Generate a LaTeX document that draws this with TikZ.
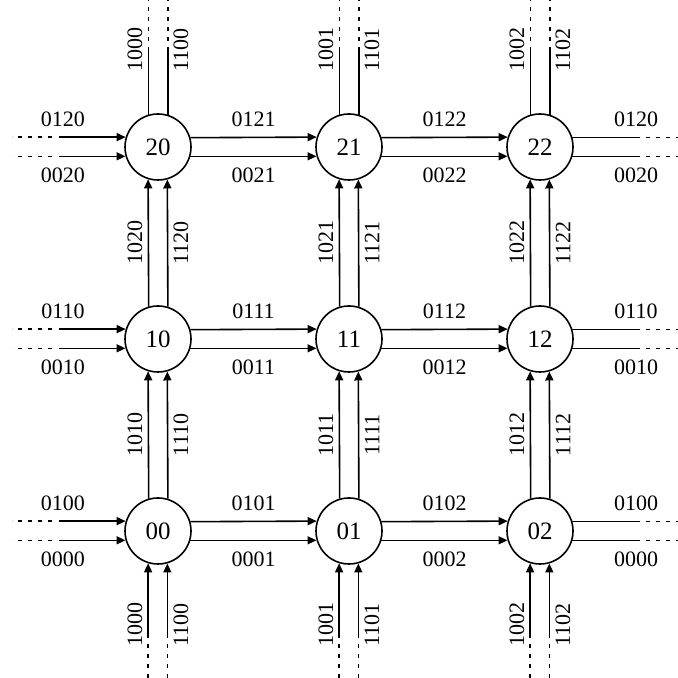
\documentclass[tikz,border=0pt]{standalone}
\usepackage{fontspec}
\setmainfont{Liberation Serif}
\usetikzlibrary{arrows.meta,calc}
\begin{document}
\begin{tikzpicture}[x=1pt,y=1pt,
  router/.style={circle, draw, line width=1.6pt, minimum size=66pt, inner sep=0pt, font=\fontsize{25}{25}\selectfont},
  link/.style={line width=1.6pt, -{Triangle[length=9pt,width=8pt]}},
  plainline/.style={line width=1.6pt},
  dotend/.style={line width=1.6pt, dash pattern=on 4pt off 6pt},
  lab/.style={font=\fontsize{22}{22}\selectfont, inner sep=0pt},
  vlab/.style={lab, rotate=90}]
\useasboundingbox (0,0) rectangle (678,678);
\coordinate (xin) at (59,0);
\coordinate (xinD) at (52,0);
\coordinate (xL) at (12,0);
\coordinate (xout) at (640,0);
\coordinate (xoutD) at (646,0);
\coordinate (xR) at (678,0);
\coordinate (ybot) at (0,40);
\coordinate (ybotD) at (0,34);
\coordinate (yB) at (0,0);
\coordinate (ytop) at (0,631);
\coordinate (ytopD) at (0,637);
\coordinate (yT) at (0,678);
\foreach \r/\y in {0/147,1/339,2/531}
  \foreach \c/\x in {0/158,1/349,2/540}
    \node[router] (n\r\c) at (\x,\y) {\r\c};
% horizontal links
\foreach \r/\y in {0/147,1/339,2/531}{
  \draw[link] (n\r0.163.3 -| xin) -- (n\r0.163.3);
  \draw[link] (n\r0.196.7 -| xin) -- (n\r0.196.7);
  \draw[dotend] (n\r0.163.3 -| xinD) -- (n\r0.163.3 -| xL);
  \draw[dotend] (n\r0.196.7 -| xinD) -- (n\r0.196.7 -| xL);
  \node[lab] (inU\r) at (63,\y+28) {01\r0};
  \node[lab] (inD\r) at (63,\y-28) {00\r0};
  \foreach \a/\b/\xm in {0/1/253.5,1/2/444.5}{
    \draw[link] (n\r\a.16.7) -- (n\r\b.163.3);
    \draw[link] (n\r\a.-16.7) -- (n\r\b.196.7);
    \node[lab] (hU\r\b) at (\xm,\y+28) {01\r\b};
    \node[lab] (hD\r\b) at (\xm,\y-28) {00\r\b};
  }
  \draw[plainline] (n\r2.16.7) -- (n\r2.16.7 -| xout);
  \draw[plainline] (n\r2.-16.7) -- (n\r2.-16.7 -| xout);
  \draw[dotend] (n\r2.16.7 -| xoutD) -- (n\r2.16.7 -| xR);
  \draw[dotend] (n\r2.-16.7 -| xoutD) -- (n\r2.-16.7 -| xR);
  \node[lab] (outU\r) at (636,\y+28) {01\r0};
  \node[lab] (outD\r) at (636,\y-28) {00\r0};
}
% vertical links
\foreach \c/\x in {0/158,1/349,2/540}{
  \draw[link] (n0\c.253.3 |- ybot) -- (n0\c.253.3);
  \draw[link] (n0\c.286.7 |- ybot) -- (n0\c.286.7);
  \draw[dotend] (n0\c.253.3 |- ybotD) -- (n0\c.253.3 |- yB);
  \draw[dotend] (n0\c.286.7 |- ybotD) -- (n0\c.286.7 |- yB);
  \node[vlab] (inL\c) at (\x-23,53) {100\c};
  \node[vlab] (inR\c) at (\x+23,53) {110\c};
  \foreach \a/\b/\ym in {0/1/243,1/2/435}{
    \draw[link] (n\a\c.106.7) -- (n\b\c.253.3);
    \draw[link] (n\a\c.73.3) -- (n\b\c.286.7);
    \node[vlab] (vL\b\c) at (\x-23,\ym) {10\b\c};
    \node[vlab] (vR\b\c) at (\x+23,\ym) {11\b\c};
  }
  \draw[plainline] (n2\c.106.7) -- (n2\c.106.7 |- ytop);
  \draw[plainline] (n2\c.73.3) -- (n2\c.73.3 |- ytop);
  \draw[dotend] (n2\c.106.7 |- ytopD) -- (n2\c.106.7 |- yT);
  \draw[dotend] (n2\c.73.3 |- ytopD) -- (n2\c.73.3 |- yT);
  \node[vlab] (outL\c) at (\x-23,628) {100\c};
  \node[vlab] (outR\c) at (\x+23,628) {110\c};
}
\end{tikzpicture}
\end{document}
